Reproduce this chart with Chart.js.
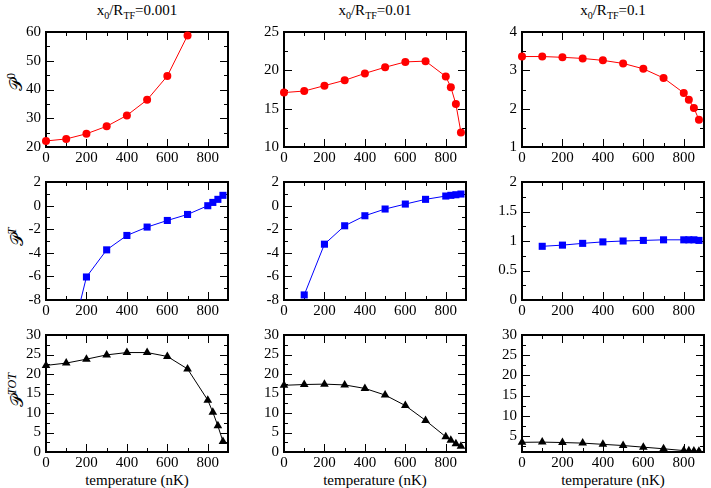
<!DOCTYPE html>
<html>
<head>
<meta charset="utf-8">
<script src="https://cdn.jsdelivr.net/npm/chart.js@4.4.0/dist/chart.umd.min.js"></script>
<style>
body { margin: 0; background: #fff; }
#wrap { position: relative; width: 711px; height: 488px; overflow: hidden; font-family: "Liberation Serif", "Times New Roman", serif; color: #000; }
#wrap canvas { position: absolute; }
.title { position: absolute; top: 1px; width: 182px; text-align: center; font-size: 15px; line-height: 18px; white-space: nowrap; }
.title sub { font-size: 10px; vertical-align: -4px; line-height: 0; }
.xlab { position: absolute; top: 471px; width: 182px; text-align: center; font-size: 15px; line-height: 18px; white-space: nowrap; }
.ylab { position: absolute; font-size: 17px; transform: translate(-50%, -50%) rotate(-90deg); white-space: nowrap; }
.ylab .cal { font-family: "DejaVu Serif", "DejaVu Sans", serif; }
.ylab sup { font-size: 12px; vertical-align: 7px; line-height: 0; font-style: italic; }
.ylab sup.up { font-style: normal; }
</style>
</head>
<body>
<div id="wrap">
  <div class="title" style="left:46px">x<sub>0</sub>/R<sub>TF</sub>=0.001</div>
  <div class="title" style="left:284px">x<sub>0</sub>/R<sub>TF</sub>=0.01</div>
  <div class="title" style="left:522px">x<sub>0</sub>/R<sub>TF</sub>=0.1</div>
  <div class="ylab" style="left:16px; top:82px"><span class="cal">𝒫</span><sup class="up">0</sup></div>
  <div class="ylab" style="left:17px; top:237px"><span class="cal">𝒫</span><sup>T</sup></div>
  <div class="ylab" style="left:17px; top:390px"><span class="cal">𝒫</span><sup>TOT</sup></div>
  <div class="xlab" style="left:46px">temperature (nK)</div>
  <div class="xlab" style="left:284px">temperature (nK)</div>
  <div class="xlab" style="left:522px">temperature (nK)</div>
</div>
<script>
// temperature (nK)
const tempAll = [0, 100, 200, 300, 400, 500, 600, 700, 800, 825, 850, 875];
const tempLow = [0, 100, 200, 300, 400, 500, 600, 700];
const tempWarm = [100, 200, 300, 400, 500, 600, 700, 800, 825, 850, 875];

// P^0 for x0/RTF = 0.001, 0.01, 0.1
const p0_001 = [22.1, 22.8, 24.6, 27.2, 31.0, 36.4, 44.7, 58.8];
const p0_01 = [17.1, 17.3, 18.0, 18.7, 19.6, 20.4, 21.1, 21.2, 19.2, 17.8, 15.6, 11.9];
const p0_1 = [3.36, 3.36, 3.34, 3.31, 3.26, 3.18, 3.04, 2.80, 2.41, 2.23, 2.02, 1.71];

// P^T
const pT_001 = [-13.0, -6.05, -3.75, -2.53, -1.82, -1.26, -0.75, -0.01, 0.27, 0.53, 0.87];
const pT_01 = [-7.57, -3.27, -1.71, -0.86, -0.29, 0.13, 0.53, 0.81, 0.87, 0.92, 0.98];
const pT_1 = [0.91, 0.93, 0.96, 0.985, 1.0, 1.01, 1.02, 1.02, 1.02, 1.02, 1.01];

// P^TOT
const pTot_001 = [22.2, 22.8, 23.8, 24.9, 25.5, 25.5, 24.5, 21.3, 13.3, 10.2, 6.7, 2.7];
const pTot_01 = [17.1, 17.3, 17.4, 17.2, 16.3, 14.6, 11.9, 8.1, 3.9, 3.0, 2.1, 1.5];
const pTot_1 = [3.4, 3.45, 3.35, 3.2, 2.9, 2.6, 2.2, 1.8, 1.35, 1.3, 1.25, 1.2];

// tick labels
const xMajor = [0, 200, 400, 600, 800];
const xMinor = [100, 300, 500, 700];
const yMajorP0 = [[20, 30, 40, 50, 60], [10, 15, 20, 25], [1, 2, 3, 4]];
const yMinorP0 = [[25, 35, 45, 55], [12.5, 17.5, 22.5], [1.5, 2.5, 3.5]];
const yMajorT = [[-8, -6, -4, -2, 0, 2], [-8, -6, -4, -2, 0, 2], [0, 0.5, 1, 1.5, 2]];
const yMinorT = [[-7, -5, -3, -1, 1], [-7, -5, -3, -1, 1], [0.25, 0.75, 1.25, 1.75]];
const yMajorTot = [[0, 5, 10, 15, 20, 25, 30], [0, 5, 10, 15, 20, 25, 30], [5, 10, 15, 20, 25, 30]];
const yMinorTot = [[2.5, 7.5, 12.5, 17.5, 22.5, 27.5], [2.5, 7.5, 12.5, 17.5, 22.5, 27.5], [2.5, 7.5, 12.5, 17.5, 22.5, 27.5]];

const FONT = '"Liberation Serif", "Times New Roman", serif';
const TICK_FONT = { family: FONT, size: 15, style: 'normal', weight: null, lineHeight: 18, string: '15px ' + FONT };
const colLeft = [46, 284, 522];
const rowTop = [32, 182, 335];
const rowHeight = [115, 118, 117];
const plotWidth = 182;
const yAxisWidth = 46;
const topOffset = 14;
const bottomH = 22;

// frame with inward major/minor ticks on all four sides
function drawFrame(chart, yMajor, yMinor) {
    const ctx = chart.ctx;
    const a = chart.chartArea;
    const x = chart.scales.x;
    const y = chart.scales.y;
    ctx.save();
    ctx.strokeStyle = '#000';
    ctx.lineWidth = 1;
    ctx.beginPath();
    const vTick = (v, len) => {
        const px = Math.round(x.getPixelForValue(v)) + 0.5;
        ctx.moveTo(px, a.bottom); ctx.lineTo(px, a.bottom - len);
        ctx.moveTo(px, a.top); ctx.lineTo(px, a.top + len);
    };
    const hTick = (v, len) => {
        const py = Math.round(y.getPixelForValue(v)) + 0.5;
        if (py < a.top || py > a.bottom) return;
        ctx.moveTo(a.left, py); ctx.lineTo(a.left + len, py);
        ctx.moveTo(a.right, py); ctx.lineTo(a.right - len, py);
    };
    for (const v of xMajor) vTick(v, 8);
    for (const v of xMinor) vTick(v, 4);
    for (const v of yMajor) hTick(v, 8);
    for (const v of yMinor) hTick(v, 4);
    ctx.stroke();
    ctx.lineWidth = 2;
    ctx.strokeRect(a.left, a.top, a.width, a.height);
    ctx.restore();
}

function makePanel(col, row, xs, ys, color, pointStyle, radius, yMin, yMax, yMajor, yMinor) {
    const wrap = document.getElementById('wrap');
    const canvas = document.createElement('canvas');
    const w = yAxisWidth + plotWidth + 10;
    const h = topOffset + rowHeight[row] + bottomH;
    canvas.width = w;
    canvas.height = h;
    canvas.style.left = (colLeft[col] - yAxisWidth) + 'px';
    canvas.style.top = (rowTop[row] - topOffset) + 'px';
    wrap.appendChild(canvas);

    new Chart(canvas.getContext('2d'), {
        type: 'line',
        data: {
            datasets: [{
                data: xs.map((t, i) => ({ x: t, y: ys[i] })),
                borderColor: color,
                backgroundColor: color,
                borderWidth: 1,
                pointStyle: pointStyle,
                pointRadius: radius,
                pointBorderWidth: 0,
                clip: { left: 10, top: 10, right: 10, bottom: 0 }
            }]
        },
        options: {
            responsive: false,
            animation: false,
            layout: { padding: { left: 0, top: 10, right: 10, bottom: 0 } },
            plugins: { legend: { display: false }, tooltip: { enabled: false } },
            scales: {
                x: {
                    type: 'linear',
                    min: 0,
                    max: 900,
                    grid: { display: false, drawTicks: false },
                    border: { display: false },
                    beforeUpdate: s => { s._resolveTickFontOptions = () => TICK_FONT; },
                    afterBuildTicks: s => { s.ticks = xMajor.map(v => ({ value: v })); },
                    afterFit: s => { s.height = bottomH; },
                    ticks: { color: '#000', font: { family: FONT, size: 15 }, padding: 2, maxRotation: 0, autoSkip: false, callback: v => String(v) }
                },
                y: {
                    min: yMin,
                    max: yMax,
                    grid: { display: false, drawTicks: false },
                    border: { display: false },
                    beforeUpdate: s => { s._resolveTickFontOptions = () => TICK_FONT; },
                    afterBuildTicks: s => { s.ticks = yMajor.map(v => ({ value: v })); },
                    afterFit: s => {
                        s.width = yAxisWidth;
                        // draw the frame together with the y axis, under the data
                        if (!s._withFrame) {
                            s._withFrame = true;
                            const baseDraw = Object.getPrototypeOf(s).draw;
                            s.draw = function (area) {
                                baseDraw.call(this, area);
                                drawFrame(this.chart, yMajor, yMinor);
                            };
                        }
                    },
                    ticks: { color: '#000', font: { family: FONT, size: 15 }, padding: 5, autoSkip: false, callback: v => String(v) }
                }
            }
        }
    });
}

const RED = '#ff0000';
const BLUE = '#0000ff';
const BLACK = '#000000';

makePanel(0, 0, tempLow, p0_001, RED, 'circle', 4, 20, 60, yMajorP0[0], yMinorP0[0]);
makePanel(1, 0, tempAll, p0_01, RED, 'circle', 4, 10, 25, yMajorP0[1], yMinorP0[1]);
makePanel(2, 0, tempAll, p0_1, RED, 'circle', 4, 1, 4, yMajorP0[2], yMinorP0[2]);

makePanel(0, 1, tempWarm, pT_001, BLUE, 'rect', 5, -8, 2, yMajorT[0], yMinorT[0]);
makePanel(1, 1, tempWarm, pT_01, BLUE, 'rect', 5, -8, 2, yMajorT[1], yMinorT[1]);
makePanel(2, 1, tempWarm, pT_1, BLUE, 'rect', 5, 0, 2, yMajorT[2], yMinorT[2]);

makePanel(0, 2, tempAll, pTot_001, BLACK, 'triangle', 5, 0, 30, yMajorTot[0], yMinorTot[0]);
makePanel(1, 2, tempAll, pTot_01, BLACK, 'triangle', 5, 0, 30, yMajorTot[1], yMinorTot[1]);
makePanel(2, 2, tempAll, pTot_1, BLACK, 'triangle', 5, 1, 30, yMajorTot[2], yMinorTot[2]);
</script>
</body>
</html>
